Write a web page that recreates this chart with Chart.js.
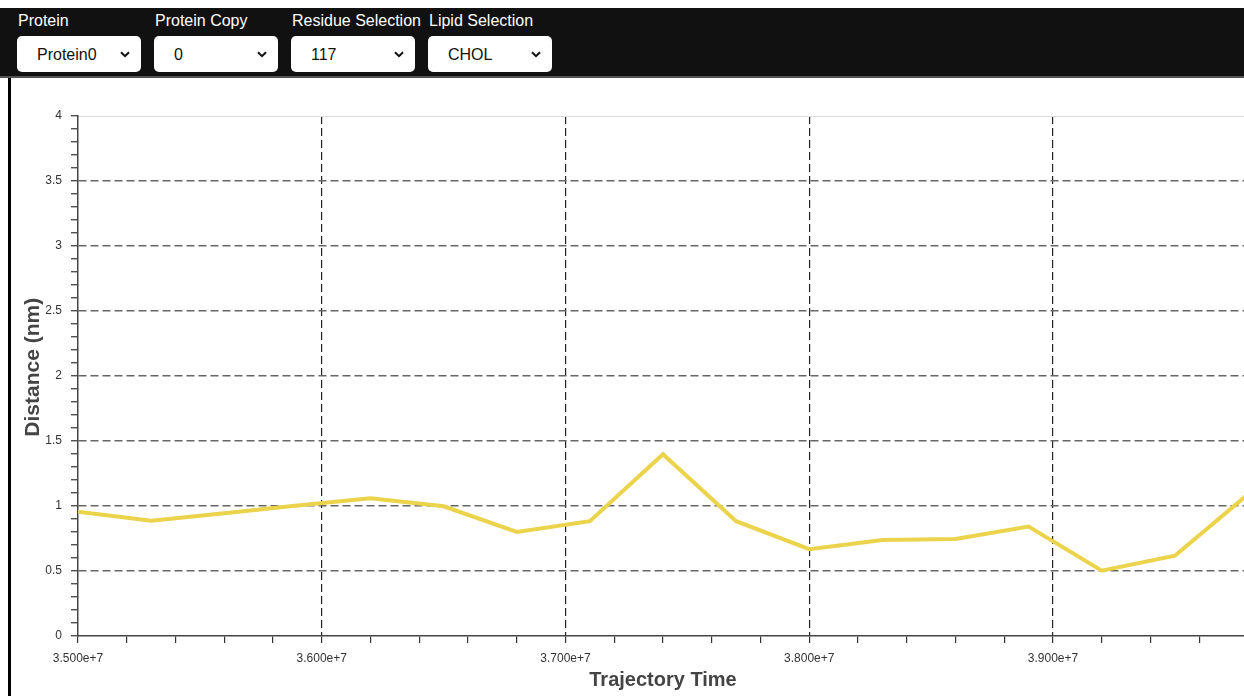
<!DOCTYPE html>
<html>
<head>
<meta charset="utf-8">
<title>Distance (nm)</title>
<script src="https://cdn.jsdelivr.net/npm/chart.js@4/dist/chart.umd.min.js"></script>
<style>
  html, body { margin: 0; padding: 0; background: #fff; }
  body { width: 1244px; height: 696px; overflow: hidden; position: relative;
         font-family: "Liberation Sans", Arial, Helvetica, sans-serif; }
  #controls { position: absolute; left: 0; top: 8px; width: 1244px; height: 68px;
              background: #111; border-bottom: 2px solid #555; }
  .ctl { position: absolute; top: 0; width: 124px; }
  .ctl label { position: absolute; left: 1px; top: 4px; color: #fff; font-size: 16px;
               white-space: nowrap; }
  .ctl select { position: absolute; left: 0; top: 28px; width: 124px; height: 36px;
                -webkit-appearance: none; appearance: none; border: none; border-radius: 5px;
                background: #fff url("data:image/svg+xml;utf8,<svg xmlns='http://www.w3.org/2000/svg' width='10' height='7' viewBox='0 0 10 7'><path d='M1 1.2 L5 5.2 L9 1.2' fill='none' stroke='%23111' stroke-width='2'/></svg>") no-repeat right 11px center;
                padding: 0 0 0 20px; font-family: inherit; font-size: 16px; color: #111; outline: none; }
  #plot { position: absolute; left: 8px; top: 78px; width: 1260px; height: 618px;
          border-left: 3px solid #000; background: #fff; }
  #plot canvas { position: absolute; left: 0; top: 0; }
</style>
</head>
<body>
<div id="controls">
  <div class="ctl" style="left:17px"><label>Protein</label>
    <select><option>Protein0</option></select></div>
  <div class="ctl" style="left:154px"><label>Protein Copy</label>
    <select><option>0</option></select></div>
  <div class="ctl" style="left:291px"><label>Residue Selection</label>
    <select><option>117</option></select></div>
  <div class="ctl" style="left:428px"><label>Lipid Selection</label>
    <select><option>CHOL</option></select></div>
</div>
<div id="plot"><canvas id="chart" width="1245" height="618"></canvas></div>
<script>
// Trajectory frames (time) and residue–lipid distance in nm
const trajectoryTime = [35000000, 35300000, 35600000, 35900000, 36200000, 36500000,
                        36800000, 37100000, 37400000, 37700000, 38000000, 38300000,
                        38600000, 38900000, 39200000, 39500000, 39800000];
const distanceNm = [0.955, 0.887, 0.944, 1.004, 1.060, 0.998,
                    0.800, 0.883, 1.398, 0.883, 0.668, 0.738,
                    0.746, 0.842, 0.502, 0.618, 1.090];

const xRange = [35000000, 39800000];
const xMinorStep = 200000, xMajorStep = 1000000;
const yRange = [0, 4];
const yMinorStep = 0.1, yMajorStep = 0.5;

const isMultiple = (v, step) => Math.abs(v / step - Math.round(v / step)) < 1e-6;

Chart.defaults.font.family = '"Liberation Sans", Arial, Helvetica, sans-serif';

new Chart(document.getElementById('chart'), {
  type: 'line',
  data: {
    datasets: [{
      data: trajectoryTime.map((t, i) => ({ x: t, y: distanceNm[i] })),
      borderColor: '#ebd34b',
      borderWidth: 4,
      pointRadius: 0,
      tension: 0,
      fill: false
    }]
  },
  options: {
    responsive: false,
    animation: false,
    events: [],
    layout: { padding: { top: 38, right: 4, bottom: 0, left: 0 } },
    plugins: { legend: { display: false }, tooltip: { enabled: false } },
    scales: {
      x: {
        type: 'linear',
        position: 'bottom',
        min: xRange[0], max: xRange[1],
        afterFit: s => { s.height = 60; },
        ticks: {
          stepSize: xMinorStep, autoSkip: false, maxRotation: 0,
          color: '#333', font: { size: 12 }, padding: 8,
          callback: v => isMultiple(v, xMajorStep) ? Number(v).toExponential(3) : ''
        },
        grid: {
          lineWidth: 1.2,
          color: c => (isMultiple(c.tick.value, xMajorStep) && c.tick.value > xRange[0]) ? '#222' : 'rgba(0,0,0,0)',
          tickColor: '#333', tickLength: 7, tickWidth: 1.2
        },
        border: { color: '#444', width: 1.5, dash: [8, 4] },
        title: {
          display: true, text: 'Trajectory Time', color: '#444',
          font: { size: 20, weight: 'bold' }, padding: { top: 0, bottom: 4 }
        }
      },
      xTop: {
        type: 'linear',
        position: 'top',
        min: xRange[0], max: xRange[1],
        afterFit: s => { s.height = 0; },
        ticks: { display: false },
        grid: { display: false },
        border: { color: '#ddd', width: 1 }
      },
      y: {
        type: 'linear',
        position: 'left',
        min: yRange[0], max: yRange[1],
        afterFit: s => { s.width = 67; },
        ticks: {
          stepSize: yMinorStep, autoSkip: false,
          color: '#333', font: { size: 12 }, padding: 9,
          callback: v => isMultiple(v, yMajorStep) ? String(Math.round(v * 10) / 10) : ''
        },
        grid: {
          lineWidth: 1.5,
          color: c => (isMultiple(c.tick.value, yMajorStep) && c.tick.value > yRange[0] && c.tick.value < yRange[1]) ? '#666' : 'rgba(0,0,0,0)',
          tickColor: '#333', tickLength: 7, tickWidth: 1.2
        },
        border: { color: '#444', width: 1.5, dash: [8, 4] },
        title: {
          display: true, text: '   Distance (nm)', color: '#444',
          font: { size: 21, weight: 'bold' }, padding: { top: 10, bottom: 0 }
        }
      }
    }
  }
});
</script>
</body>
</html>
